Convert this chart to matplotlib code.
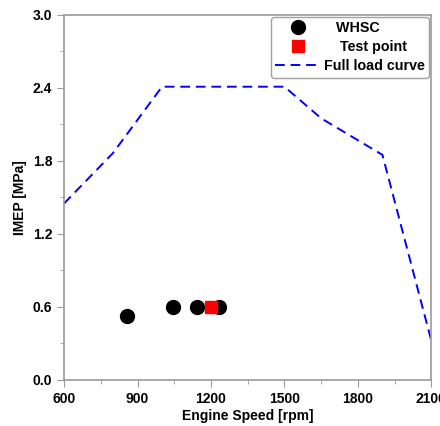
import matplotlib
matplotlib.use("Agg")
import matplotlib.pyplot as plt
from matplotlib.ticker import MultipleLocator

# full load curve
full_speed = [600, 800, 1000, 1500, 1650, 1900, 2100]
full_imep = [1.45, 1.865, 2.41, 2.41, 2.15, 1.85, 0.32]

# WHSC operating points
whsc_speed = [857, 1045, 1143, 1233]
whsc_imep = [0.525, 0.60, 0.60, 0.60]

# test point
test_speed = [1200]
test_imep = [0.60]

plt.rcParams['font.family'] = ['Liberation Sans', 'DejaVu Sans']
plt.rcParams['font.weight'] = 'bold'

fig = plt.figure(figsize=(4.4, 4.26), dpi=100)
ax = fig.add_axes([0.1455, 0.108, 0.835, 0.857])

ax.plot(whsc_speed, whsc_imep, 'o', color='black', markersize=10, label='   WHSC', zorder=3)
ax.plot(test_speed, test_imep, 's', color='red', markersize=8.5, label='    Test point', zorder=4)
ax.plot(full_speed, full_imep, '--', color='blue', linewidth=1.4, dashes=(5, 3),
        label='Full load curve', zorder=2)

ax.set_xlim(600, 2100)
ax.set_ylim(0, 3.0)
ax.xaxis.set_major_locator(MultipleLocator(300))
ax.xaxis.set_minor_locator(MultipleLocator(150))
ax.yaxis.set_major_locator(MultipleLocator(0.6))
ax.yaxis.set_minor_locator(MultipleLocator(0.3))
ax.yaxis.set_major_formatter(plt.FormatStrFormatter('%.1f'))

for s in ax.spines.values():
    s.set_color('#9a9a9a')
    s.set_linewidth(1.2)
ax.tick_params(which='major', length=5, color='#9a9a9a', labelsize=10)
ax.tick_params(which='minor', length=3, color='#9a9a9a')

ax.set_xlabel('Engine Speed [rpm]', fontsize=10, fontweight='bold', labelpad=2)
ax.set_ylabel('IMEP [MPa]', fontsize=10, fontweight='bold', labelpad=4)

leg = ax.legend(loc='upper right', fontsize=10.3, frameon=True, fancybox=True,
                edgecolor='#a0a0a0', framealpha=1, handlelength=3.2,
                borderaxespad=0.15, labelspacing=0.35, handletextpad=0.2,
                borderpad=0.3)
leg.get_frame().set_linewidth(1.0)

fig.savefig('out.png', dpi=100)
